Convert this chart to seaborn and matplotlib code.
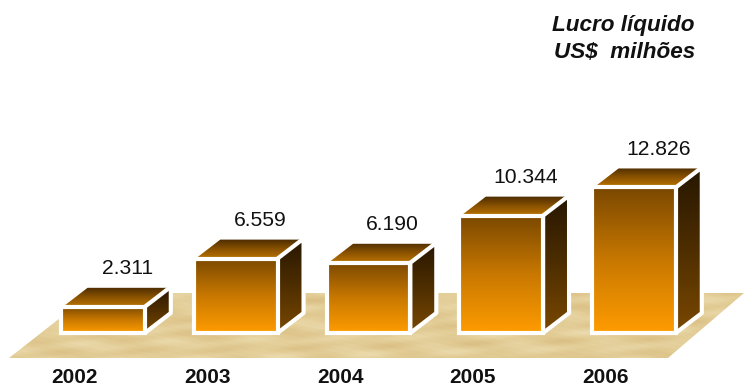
import numpy as np
import pandas as pd
import matplotlib
matplotlib.use("Agg")
import matplotlib.pyplot as plt
from matplotlib.colors import LinearSegmentedColormap
from matplotlib.patches import Polygon
from matplotlib.transforms import ScaledTranslation
import seaborn as sns

# Net profit in US$ millions
years = ["2002", "2003", "2004", "2005", "2006"]
profit = [2311, 6559, 6190, 10344, 12826]

sns.set_theme(style="white")
plt.rcParams["font.family"] = ["Liberation Sans", "DejaVu Sans"]

W, H = 744, 388
fig = plt.figure(figsize=(W / 100, H / 100), dpi=100, facecolor="white")
ax = fig.add_axes([0, 30 / H, 1, 358 / H])

df = pd.DataFrame({"ano": years, "lucro": profit})
sns.barplot(data=df, x="ano", y="lucro", width=0.63, color="#FF9C00",
            edgecolor="white", linewidth=3, ax=ax, zorder=5)

# Scale of the axes: pixels per category step and per US$ million
PX_X, PX_Y = 132.75, 0.01135
xlim = (-103 / PX_X, (W - 103) / PX_X)
ylim = (-25 / PX_Y, 333 / PX_Y)
DX, DY = 26 / PX_X, 20 / PX_Y

front = LinearSegmentedColormap.from_list("front", ["#FF9C00", "#C87800", "#7A4800"])
side = LinearSegmentedColormap.from_list("side", ["#7A4800", "#4E2E00", "#261600"])
lid = LinearSegmentedColormap.from_list("lid", ["#BC7400", "#8A5200", "#4A2B00"])
ramp = np.linspace(0, 1, 256)[::-1].reshape(-1, 1)


def gradient(cmap, extent, clip, z):
    im = ax.imshow(ramp, cmap=cmap, extent=extent, aspect="auto", zorder=z,
                   interpolation="bilinear", vmin=0, vmax=1)
    im.set_clip_path(clip)


# Sandy floor under the boxes
gx, gy = np.meshgrid(np.linspace(0, 1, 744), np.linspace(0, 1, 120))
grain = (np.sin(31 * gx + 9 * gy) * np.sin(17 * gy - 23 * gx)
         + 0.6 * np.sin(53 * gx + 7 * gy) * np.sin(29 * gy + 11 * gx)
         + 0.12 * np.sin(211 * gx - 83 * gy))
sand = LinearSegmentedColormap.from_list("sand", ["#DABF84", "#E3CD97", "#EBDBAE"])
floor = Polygon([(9 / W, 0), (668 / W, 0), (1, 65 / 358), (92 / W, 65 / 358)],
                transform=ax.transAxes, facecolor="none", edgecolor="none", zorder=1)
ax.add_patch(floor)
fl = ax.imshow(grain, cmap=sand, extent=(0, 1, 0, 65 / 358), transform=ax.transAxes,
               aspect="auto", zorder=1, interpolation="bilinear")
fl.set_clip_path(floor)

# Front gradient plus the right and top faces of every bar
for bar in ax.patches[:len(years)]:
    x0, x1 = bar.get_x(), bar.get_x() + bar.get_width()
    top = bar.get_height()
    bar.set_facecolor("none")
    gradient(front, (x0, x1, 0, top), bar, 4)

    right = Polygon([(x1, 0), (x1 + DX, DY), (x1 + DX, top + DY), (x1, top)],
                    facecolor="none", edgecolor="white", lw=3, joinstyle="round", zorder=3)
    ax.add_patch(right)
    gradient(side, (x1, x1 + DX, 0, top + DY), right, 2)

    lid_face = Polygon([(x0, top), (x1, top), (x1 + DX, top + DY), (x0 + DX, top + DY)],
                       facecolor="none", edgecolor="white", lw=1.5, joinstyle="round", zorder=3)
    ax.add_patch(lid_face)
    gradient(lid, (x0, x1 + DX, top, top + DY), lid_face, 2)

    value = f"{int(top):,}".replace(",", ".")
    ax.annotate(value, (bar.get_x() + bar.get_width() / 2, top + DY),
                xytext=(17.5, 6), textcoords="offset points", ha="center", va="bottom",
                fontsize=15.2, color="#111111", zorder=6)

ax.set_xlim(*xlim)
ax.set_ylim(*ylim)
ax.set_xlabel("")
ax.set_ylabel("")
ax.set_yticks([])
ax.tick_params(axis="x", length=0, pad=7)
shift = ScaledTranslation(-28.5 / 100, 0, fig.dpi_scale_trans)
for tick in ax.get_xticklabels():
    tick.set_fontsize(15)
    tick.set_fontweight("bold")
    tick.set_color("#111111")
    tick.set_transform(tick.get_transform() + shift)
sns.despine(ax=ax, left=True, bottom=True, top=True, right=True)
ax.patch.set_alpha(0)

fig.text(695 / W, 1 - 26 / H, "Lucro líquido", ha="right", va="center", fontsize=16.2,
         fontweight="bold", fontstyle="italic", color="#111111")
fig.text(695 / W, 1 - 53 / H, "US$  milhões", ha="right", va="center", fontsize=16.2,
         fontweight="bold", fontstyle="italic", color="#111111")

fig.savefig("out.png", dpi=100)
